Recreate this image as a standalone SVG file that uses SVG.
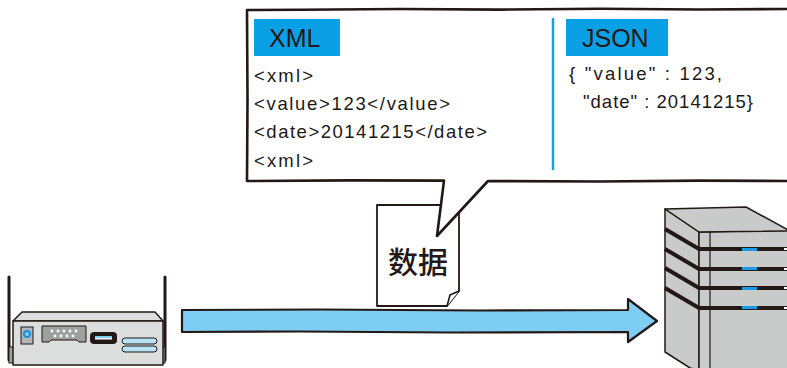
<svg xmlns="http://www.w3.org/2000/svg" width="787" height="368" viewBox="0 0 787 368">
  <style>
    .ink { stroke: #231815; stroke-linejoin: round; stroke-linecap: round; }
    .code { font-family: "Liberation Sans", "DejaVu Sans", sans-serif; font-size: 18.5px; fill: #231815; }
    .tag { font-family: "Liberation Sans", "DejaVu Sans", sans-serif; font-size: 25px; fill: #231815; }
    .label-bg { fill: #0aa0e6; }
    .metal { fill: #dcdddd; }
    .case { fill: #c9caca; }
    .band { stroke: #231815; stroke-width: 4; fill: none; }
    .led { fill: #1a9be6; }
  </style>

  <rect width="787" height="368" fill="#ffffff"/>

  <!-- transfer arrow -->
  <g id="connectors">
    <path class="ink" d="M182,310 L320,309.5 L480,310.5 L628,310 L628,299 L657,321 L628,342 L628,332 L450,332.5 L300,331.5 L182,332 Z" fill="#7ecef4" stroke-width="2.2"/>
  </g>

  <!-- data document -->
  <g id="document">
    <path class="ink" d="M377,205 L459,205 L459,291 L447,306 L377,306 Z" fill="#ffffff" stroke-width="1.8"/>
    <path class="ink" d="M447,306 L450,295 L459,291" fill="#ffffff" stroke-width="1.6"/>
    <text x="418" y="273" text-anchor="middle" font-family="'Noto Sans CJK SC', sans-serif" font-size="30" font-weight="500" fill="#231815">数据</text>
  </g>

  <!-- speech bubble with both formats -->
  <g id="bubble">
    <path class="ink" d="M792,9 L700,9.5 L600,8.8 L500,9.6 L400,9 L300,9.7 L247,10 L247.5,100 L247,181 L350,180.4 L444,180.6 L437,236 L488,181 L600,181.5 L700,180.6 L792,181" fill="#ffffff" stroke-width="2.6"/>
    <line x1="553" y1="18" x2="553" y2="170" stroke="#1aa0e8" stroke-width="2.5"/>
  </g>

  <g id="xml-block">
    <rect class="label-bg" x="254" y="19" width="86" height="37"/>
    <text class="tag" x="269" y="47">XML</text>
    <text class="code" x="254" y="82" textLength="59" lengthAdjust="spacing">&lt;xml&gt;</text>
    <text class="code" x="254" y="110" textLength="196" lengthAdjust="spacing">&lt;value&gt;123&lt;/value&gt;</text>
    <text class="code" x="254" y="138" textLength="233" lengthAdjust="spacing">&lt;date&gt;20141215&lt;/date&gt;</text>
    <text class="code" x="254" y="167" textLength="59" lengthAdjust="spacing">&lt;xml&gt;</text>
  </g>

  <g id="json-block">
    <rect class="label-bg" x="566" y="19" width="102" height="37"/>
    <text class="tag" x="582" y="47">JSON</text>
    <text class="code" x="569" y="80" textLength="153" lengthAdjust="spacing">{ "value" : 123,</text>
    <text class="code" x="583" y="108" textLength="170" lengthAdjust="spacing">"date" : 20141215}</text>
  </g>

  <!-- router -->
  <g id="router">
    <line class="ink" x1="9" y1="277" x2="9" y2="360" stroke-width="3"/>
    <line class="ink" x1="165" y1="277" x2="165" y2="360" stroke-width="3"/>
    <rect x="9" y="347" width="5" height="16" fill="#9fa0a0" stroke="#231815" stroke-width="1"/>
    <rect x="160" y="347" width="5" height="16" fill="#9fa0a0" stroke="#231815" stroke-width="1"/>
    <path class="ink metal" d="M13,321 L22,312 L155,312 L163,321 Z" stroke-width="1.5"/>
    <rect class="ink metal" x="13" y="321" width="150" height="44" stroke-width="1.5"/>
    <!-- power button -->
    <rect x="21" y="327" width="12" height="17" fill="#b5b5b6" stroke="#231815" stroke-width="1"/>
    <circle cx="27" cy="334" r="4" fill="#1a8fe0"/>
    <circle cx="27" cy="334" r="2" fill="#7ecef4"/>
    <!-- serial port -->
    <path d="M42,326 L86,326 L86,342 L79,342 L77,340 L51,340 L49,342 L42,342 Z" fill="#9fa0a0" stroke="#231815" stroke-width="1"/>
    <g fill="#ffffff">
      <circle cx="52" cy="331" r="1.4"/><circle cx="58" cy="331" r="1.4"/><circle cx="64" cy="331" r="1.4"/><circle cx="70" cy="331" r="1.4"/><circle cx="76" cy="331" r="1.4"/>
      <circle cx="55" cy="336" r="1.4"/><circle cx="61" cy="336" r="1.4"/><circle cx="67" cy="336" r="1.4"/><circle cx="73" cy="336" r="1.4"/>
    </g>
    <!-- usb -->
    <rect x="90" y="332" width="27" height="12" rx="4" fill="#231815"/>
    <rect x="95" y="336" width="17" height="3" fill="#7ecef4"/>
    <rect x="95" y="338" width="17" height="1.5" fill="#ffffff"/>
    <!-- slots -->
    <rect x="122" y="338" width="35" height="6" rx="3" fill="#b7e2f8" stroke="#231815" stroke-width="1"/>
    <rect x="122" y="346" width="35" height="6" rx="3" fill="#b7e2f8" stroke="#231815" stroke-width="1"/>
  </g>

  <!-- server tower -->
  <g id="server">
    <path class="ink case" d="M665,209 L699,232 L699,370 L690,368 L665,352 Z" stroke-width="1.5"/>
    <path class="ink case" d="M699,232 L790,230 L790,370 L699,370 Z" stroke-width="1.5"/>
    <path class="ink case" d="M665,209 L746,207 L790,231 L699,232 Z" stroke-width="1.5"/>
    <line x1="710" y1="232" x2="710" y2="368" stroke="#231815" stroke-width="1.2"/>
    <path class="band" d="M665,229 L699,249 L790,249"/>
    <path class="band" d="M665,249 L699,269 L790,269"/>
    <path class="band" d="M665,268 L699,288 L790,288"/>
    <path class="band" d="M665,288 L699,308 L790,308"/>
    <rect class="led" x="742" y="248" width="15" height="3"/>
    <rect class="led" x="742" y="267" width="15" height="3"/>
    <rect class="led" x="742" y="287" width="15" height="3"/>
    <rect class="led" x="742" y="306" width="15" height="3"/>
    <g fill="#ffffff">
      <rect x="784" y="248" width="3" height="2"/>
      <rect x="784" y="268" width="3" height="2"/>
      <rect x="784" y="287" width="3" height="2"/>
      <rect x="784" y="307" width="3" height="2"/>
    </g>
  </g>
</svg>
